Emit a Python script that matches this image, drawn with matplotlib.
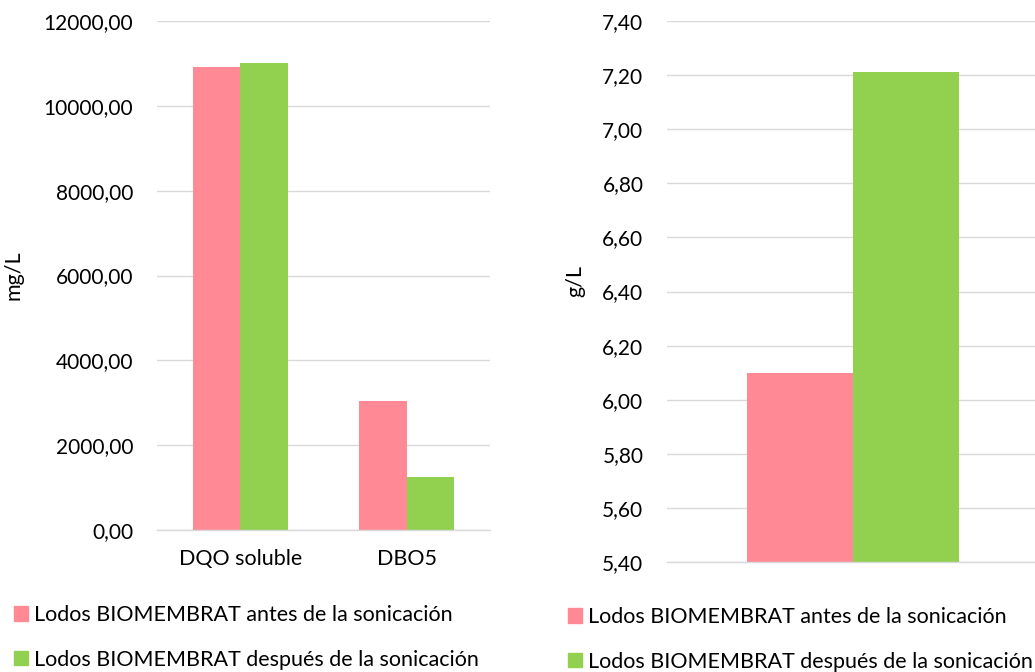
import matplotlib
matplotlib.use("Agg")
from matplotlib import pyplot as plt
from matplotlib.patches import Patch
from matplotlib.ticker import FuncFormatter, MultipleLocator
import numpy as np

plt.rcParams['font.family'] = ['Lato', 'DejaVu Sans']

# left panel: mg/L
categories = ['DQO soluble', 'DBO5']
antes_mgL = [10920, 3045]
despues_mgL = [11010, 1255]

# right panel: g/L (single unnamed category)
categories_gL = ['']
antes_gL = [6.10]
despues_gL = [7.21]

series_labels = ['Lodos BIOMEMBRAT antes de la sonicación',
                 'Lodos BIOMEMBRAT después de la sonicación']

PINK = '#FF8A96'
GREEN = '#92D050'
GRID = '#D9D9D9'
FS_Y = 15
FS = 15.5
W = 0.2857  # Excel gap width 75%


def comma_fmt(v, pos):
    return f"{v:.2f}".replace('.', ',')


def style_axes(ax):
    for s in ['top', 'right', 'left']:
        ax.spines[s].set_visible(False)
    ax.spines['bottom'].set_color(GRID)
    ax.spines['bottom'].set_linewidth(1.0)
    ax.yaxis.grid(True, color=GRID, linewidth=1.0)
    ax.set_axisbelow(True)
    ax.tick_params(axis='y', length=0, pad=17, labelsize=FS_Y)
    ax.tick_params(axis='x', length=0, pad=14, labelsize=FS)
    ax.yaxis.set_major_formatter(FuncFormatter(comma_fmt))


fig = plt.figure(figsize=(10.35, 6.72), dpi=100)

# left chart
ax1 = fig.add_axes([157 / 1035, 1 - 530 / 672, 333 / 1035, 509 / 672])
x = np.arange(len(categories))
ax1.bar(x - W / 2, antes_mgL, W, color=PINK, linewidth=0)
ax1.bar(x + W / 2, despues_mgL, W, color=GREEN, linewidth=0)
ax1.set_xlim(-0.5, len(categories) - 0.5)
ax1.set_ylim(0, 12000)
ax1.yaxis.set_major_locator(MultipleLocator(2000))
ax1.set_xticks(x)
ax1.set_xticklabels(categories)
style_axes(ax1)
ax1.set_ylabel('mg/L', fontsize=FS)
ax1.yaxis.set_label_coords(-0.40, 0.5)

# right chart (runs slightly past the figure edge, as in the original)
ax2 = fig.add_axes([667 / 1035, 1 - 562 / 672, 372 / 1035, 541 / 672])
x2 = np.arange(len(categories_gL))
ax2.bar(x2 - W / 2, antes_gL, W, color=PINK, linewidth=0)
ax2.bar(x2 + W / 2, despues_gL, W, color=GREEN, linewidth=0)
ax2.set_xlim(-0.5, len(categories_gL) - 0.5)
ax2.set_ylim(5.40, 7.40)
ax2.yaxis.set_major_locator(MultipleLocator(0.20))
ax2.set_xticks(x2)
ax2.set_xticklabels(categories_gL)
style_axes(ax2)
ax2.set_ylabel('g/L', fontsize=FS)
ax2.yaxis.set_label_coords(-0.22, 0.52)

handles = [Patch(color=PINK), Patch(color=GREEN)]
for x0, y0 in [(14, 605), (568, 607)]:
    fig.legend(handles, series_labels, loc='upper left',
               bbox_to_anchor=(x0 / 1035, 1 - y0 / 672),
               frameon=False, fontsize=FS, borderpad=0, borderaxespad=0,
               handlelength=0.65, handleheight=0.65, handletextpad=0.3,
               labelspacing=1.15)

fig.savefig('out.png', dpi=100)
